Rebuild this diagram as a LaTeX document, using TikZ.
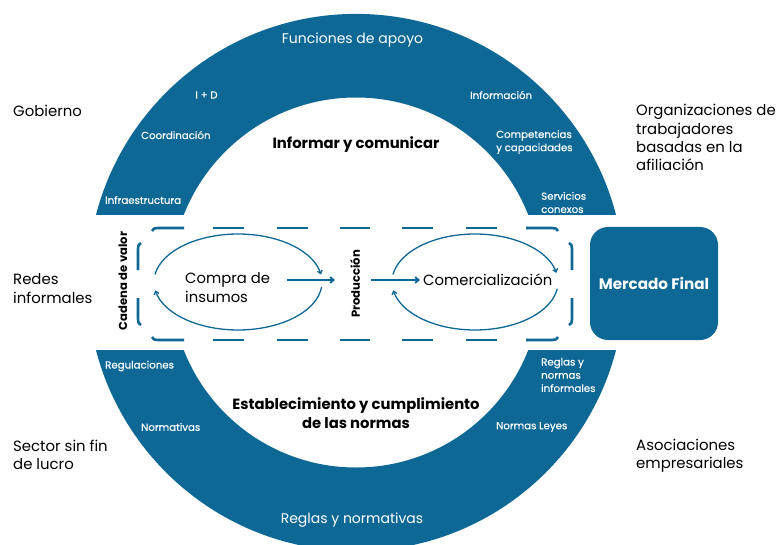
\documentclass[tikz,border=0pt]{standalone}
\usepackage{fontspec}
\setmainfont{Poppins}
\newfontfamily\medfont{Poppins}[FakeBold=0.35]
\usetikzlibrary{arrows.meta}
\definecolor{ringblue}{HTML}{0E6896}
\begin{document}
\begin{tikzpicture}[x=1pt,y=-1pt,
  sidelabel/.style={anchor=west, align=left, font=\fontsize{14.9}{18.2}\selectfont, text=black, inner sep=0},
  ringlabel/.style={anchor=west, text=white, font=\medfont\fontsize{10.2}{13.2}\selectfont, inner sep=0, align=left},
  ringtitle/.style={text=white, font=\fontsize{14}{17}\selectfont, inner sep=0},
  innertitle/.style={font=\bfseries\fontsize{14.8}{19}\selectfont, inner sep=0, align=center},
  chainlabel/.style={anchor=west, font=\fontsize{14.8}{19}\selectfont, inner sep=0, align=left},
  vlabel/.style={rotate=90, font=\bfseries\fontsize{11.6}{13}\selectfont, inner sep=0},
  cyclearrow/.style={draw=ringblue, line width=1.3pt, -{Straight Barb[length=3pt,width=5pt]}},
  flowarrow/.style={draw=ringblue, line width=1.8pt, -{Straight Barb[length=3.5pt,width=6pt]}},
  dashseg/.style={draw=ringblue, line width=2.6pt},
  marketbox/.style={fill=ringblue, rounded corners=18pt, minimum width=128pt, minimum height=113pt, text=white, font=\bfseries\fontsize{15.2}{17}\selectfont}
]
\useasboundingbox (0,0) rectangle (778,545);
% ring halves
\begin{scope}
  \clip (0,0) rectangle (778,215);
  \fill[ringblue, even odd rule] (356,282.5) circle (268.6pt) (356,282.5) circle (185pt);
\end{scope}
\begin{scope}
  \clip (0,350) rectangle (778,545);
  \fill[ringblue, even odd rule] (356,282.5) circle (268.6pt) (356,282.5) circle (185pt);
\end{scope}
% side labels
\node[sidelabel] (gob) at (13,111) {Gobierno};
\node[sidelabel] (redes) at (13,288.5) {Redes\\informales};
\node[sidelabel] (sector) at (13,455) {Sector sin fin\\de lucro};
\node[sidelabel] (org) at (636,137.5) {Organizaciones de\\trabajadores\\basadas en la\\afiliación};
\node[sidelabel] (asoc) at (636,456) {Asociaciones\\empresariales};
% top ring labels
\node[ringtitle] (fun) at (352.5,40) {Funciones de apoyo};
\node[ringlabel, anchor=center] (id) at (206.5,95) {I + D};
\node[ringlabel] (coord) at (141,135) {Coordinación};
\node[ringlabel] (infra) at (105,200) {Infraestructura};
\node[ringlabel] (info) at (470,95) {Información};
\node[ringlabel] (comp) at (496,142) {Competencias\\y capacidades};
\node[ringlabel] (serv) at (541,202.5) {Servicios\\conexos};
\node[innertitle] (infcom) at (356,145) {Informar y comunicar};
% bottom ring labels
\node[ringlabel] (regu) at (105,366) {Regulaciones};
\node[ringlabel] (norm) at (141,427) {Normativas};
\node[ringlabel] (rni) at (541,375) {Reglas y\\normas\\informales};
\node[ringlabel] (nl) at (496,427) {Normas Leyes};
\node[innertitle] (est) at (356,413.5) {Establecimiento y cumplimiento\\de las normas};
\node[ringtitle] (ryn) at (352,520) {Reglas y normativas};
% value chain
\node[vlabel] (cadena) at (123,281) {Cadena de valor};
\node[vlabel] (prod) at (355,284) {Producción};
\node[chainlabel] (compra) at (185,288) {Compra de\\insumos};
\node[chainlabel] (comer) at (423,280) {Comercialización};
\node[marketbox] (mercado) at (654,283.5) {Mercado Final};
% dashed frame
\draw[dashseg] (152,231) .. controls (153.5,228.5) .. (158,228) -- (184,228);
\draw[dashseg] (213,228) -- (244,228);
\draw[dashseg] (277,228) -- (308,228);
\draw[dashseg] (340,228) -- (370,228);
\draw[dashseg] (402,228) -- (433,228);
\draw[dashseg] (466,228) -- (497,228);
\draw[dashseg] (526,228) -- (552,228) .. controls (556.5,228.5) .. (558,231);
\draw[dashseg] (152,337) .. controls (153.5,339.5) .. (158,340) -- (184,340);
\draw[dashseg] (213,340) -- (244,340);
\draw[dashseg] (277,340) -- (308,340);
\draw[dashseg] (340,340) -- (370,340);
\draw[dashseg] (402,340) -- (433,340);
\draw[dashseg] (466,340) -- (497,340);
\draw[dashseg] (526,340) -- (552,340) .. controls (556.5,339.5) .. (558,337);
\draw[dashseg] (141,243) .. controls (138.5,244.5) .. (138,249) -- (138,270);
\draw[dashseg] (138,298) -- (138,319) .. controls (138.5,323.5) .. (141,325);
\draw[dashseg] (569,243) .. controls (571.5,244.5) .. (572,249) -- (572,270);
\draw[dashseg] (572,298) -- (572,319) .. controls (571.5,323.5) .. (569,325);
% cycle arrows
\draw[cyclearrow] plot[domain=171:9, samples=60, smooth] ({238+84*cos(\x)},{282-48*sin(\x)});
\draw[cyclearrow] plot[domain=-6:-170, samples=60, smooth] ({238+84*cos(\x)},{282-48*sin(\x)});
\draw[cyclearrow] plot[domain=171:11, samples=60, smooth] ({475+83*cos(\x)},{282-48*sin(\x)});
\draw[cyclearrow] plot[domain=-8:-170, samples=60, smooth] ({475+83*cos(\x)},{282-48*sin(\x)});
% flow arrows
\coordinate (a1s) at (287,280);
\coordinate (a1e) at (335,280);
\coordinate (a2s) at (371,280);
\coordinate (a2e) at (420,280);
\draw[flowarrow] (a1s) -- (a1e);
\draw[flowarrow] (a2s) -- (a2e);
\end{tikzpicture}
\end{document}
